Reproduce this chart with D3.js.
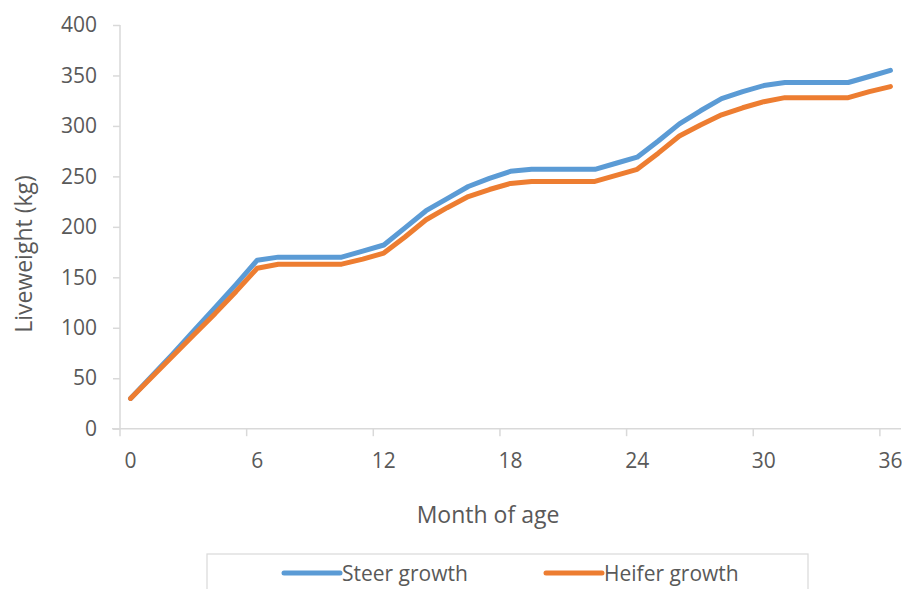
<!DOCTYPE html>
<html>
<head>
<meta charset="utf-8">
<script src="https://cdn.jsdelivr.net/npm/d3@7"></script>
<style>
  html, body { margin: 0; padding: 0; background: #fff; }
  svg { display: block; }
  text { font-family: "Open Sans", sans-serif; fill: #595959; }
</style>
</head>
<body>
<svg id="chart" width="902" height="589"></svg>
<script>
// Monthly liveweight (kg), month 0 to 36
const months = d3.range(0, 37);
const steerGrowth = [30, 52, 74, 97, 120, 143, 167, 170, 170, 170, 170, 176, 182, 199, 216, 228, 240, 248, 255, 257,
  257, 257, 257, 263, 269, 285, 302, 315, 327, 334, 340, 343, 343, 343, 343, 349, 355];
const heiferGrowth = [30, 51, 72, 93, 114, 136, 159, 163, 163, 163, 163, 168, 174, 190, 207, 219, 230, 237, 243, 245,
  245, 245, 245, 251, 257, 273, 290, 301, 311, 318, 324, 328, 328, 328, 328, 334, 339];
const yTicks = [0, 50, 100, 150, 200, 250, 300, 350, 400];
const xLabelEvery = 6;

const series = [
  { name: "Steer growth", values: steerGrowth, color: "#5B9BD5" },
  { name: "Heifer growth", values: heiferGrowth, color: "#ED7D31" }
];

const svg = d3.select("#chart");
const plotLeft = 120, plotRight = 901, plotTop = 25, plotBottom = 428.7;
const axisColor = "#d9d9d9";

const x = d3.scaleBand().domain(months).range([plotLeft, plotRight]).padding(0);
const y = d3.scaleLinear().domain([0, 400]).range([plotBottom, plotTop]);
const cx = m => x(m) + x.bandwidth() / 2;

// y axis
const yAxis = svg.append("g").attr("transform", `translate(${plotLeft},0)`)
  .call(d3.axisLeft(y).tickValues(yTicks).tickSize(7).tickPadding(16));
yAxis.select(".domain").attr("stroke", axisColor).attr("stroke-width", 1.5)
  .attr("d", `M0,${plotBottom}V${plotTop}`);
yAxis.selectAll(".tick line").attr("stroke", axisColor).attr("stroke-width", 1.5);
yAxis.selectAll(".tick text").style("font-size", "21px").style("fill", "#595959")
  .attr("font-family", "Open Sans");

// x axis: ticks on category boundaries, labels centred on categories
const xg = svg.append("g");
xg.append("line").attr("x1", plotLeft - 8).attr("x2", plotRight).attr("y1", plotBottom).attr("y2", plotBottom)
  .attr("stroke", axisColor).attr("stroke-width", 1.5);
const labelled = months.filter(m => m % xLabelEvery === 0);
xg.selectAll("line.tick").data(labelled).join("line").attr("class", "tick")
  .attr("x1", m => x(m)).attr("x2", m => x(m))
  .attr("y1", plotBottom).attr("y2", plotBottom + 7.5)
  .attr("stroke", axisColor).attr("stroke-width", 1.5);
xg.selectAll("text").data(labelled).join("text")
  .attr("x", m => cx(m)).attr("y", 468)
  .attr("text-anchor", "middle").style("font-size", "21px")
  .text(m => m);

// axis titles
svg.append("text").attr("transform", "translate(32,254) rotate(-90)")
  .attr("text-anchor", "middle").style("font-size", "23px").text("Liveweight (kg)");
svg.append("text").attr("x", 488).attr("y", 523)
  .attr("text-anchor", "middle").style("font-size", "23px").text("Month of age");

// series lines
const line = d3.line().x((d, i) => cx(months[i])).y(d => y(d));
svg.selectAll("path.series").data(series).join("path").attr("class", "series")
  .attr("d", d => line(d.values))
  .attr("fill", "none").attr("stroke", d => d.color)
  .attr("stroke-width", 5).attr("stroke-linejoin", "round").attr("stroke-linecap", "round");

// legend
svg.append("rect").attr("x", 207).attr("y", 554).attr("width", 601).attr("height", 50)
  .attr("fill", "none").attr("stroke", axisColor).attr("stroke-width", 1.2);
const legendX = [284, 546];
const lg = svg.selectAll("g.legend").data(series).join("g").attr("class", "legend")
  .attr("transform", (d, i) => `translate(${legendX[i]},573)`);
lg.append("line").attr("x1", 0).attr("x2", 56).attr("y1", 0).attr("y2", 0)
  .attr("stroke", d => d.color).attr("stroke-width", 5).attr("stroke-linecap", "round");
lg.append("text").attr("x", 58).attr("y", 8).style("font-size", "21px").text(d => d.name);
</script>
</body>
</html>
